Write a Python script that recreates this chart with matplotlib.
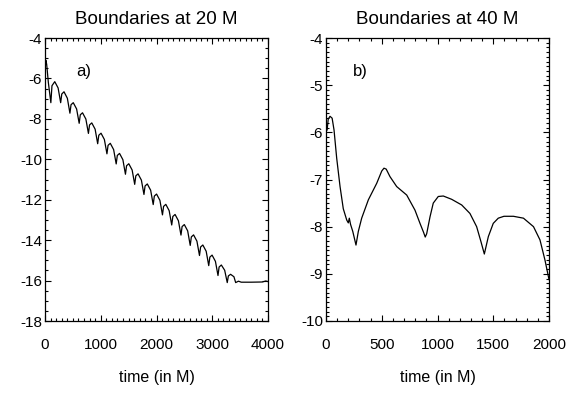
import matplotlib
matplotlib.use("Agg")
import matplotlib.pyplot as plt
import numpy as np
from matplotlib.ticker import MultipleLocator

# ---------------- data: panel a (boundaries at 20 M) ----------------
start_t = [0, 15, 30, 60]
start_v = [-5.60, -5.10, -5.30, -6.20]

cusp_t = [105, 281, 447, 613, 779, 945, 1111, 1277, 1443, 1609,
          1775, 1941, 2107, 2273, 2439, 2605, 2771, 2937, 3103, 3269]
cusp_v = [-7.20, -7.20, -7.72, -8.22, -8.72, -9.23, -9.73, -10.23, -10.74, -11.24,
          -11.74, -12.24, -12.75, -13.25, -13.75, -14.26, -14.76, -15.26, -15.75, -16.10]
rise_t = [125, 301, 467, 633, 799, 965, 1131, 1297, 1463, 1629,
          1795, 1961, 2127, 2293, 2459, 2625, 2791, 2957, 3123, 3289]
rise_v = [-6.36, -6.77, -7.30, -7.80, -8.30, -8.81, -9.31, -9.81, -10.32, -10.82,
          -11.32, -11.82, -12.33, -12.83, -13.33, -13.84, -14.34, -14.84, -15.33, -15.77]
peak_t = [175, 341, 507, 673, 839, 1005, 1171, 1337, 1503, 1669,
          1835, 2001, 2167, 2333, 2499, 2665, 2831, 2997, 3163, 3329]
peak_v = [-6.16, -6.66, -7.20, -7.70, -8.20, -8.71, -9.21, -9.71, -10.22, -10.72,
          -11.22, -11.72, -12.23, -12.73, -13.23, -13.74, -14.24, -14.74, -15.23, -15.69]
fall_t = [235, 401, 567, 733, 899, 1065, 1231, 1397, 1563, 1729,
          1895, 2061, 2227, 2393, 2559, 2725, 2891, 3057, 3223, 3389]
fall_v = [-6.47, -6.98, -7.51, -8.01, -8.51, -9.02, -9.52, -10.02, -10.53, -11.03,
          -11.53, -12.03, -12.54, -13.04, -13.54, -14.05, -14.55, -15.05, -15.49, -15.81]

tail_t = [3420, 3470, 3520, 3700, 3900, 3960, 4000]
tail_v = [-16.10, -16.03, -16.08, -16.08, -16.07, -16.02, -16.05]

# ---------------- data: panel b (boundaries at 40 M) ----------------
b_t = [10, 20, 36, 55, 72, 96, 126, 155, 186, 200, 209, 220, 240, 269, 290, 320,
       380, 455, 500, 520, 540, 574, 634, 724, 798, 843, 875, 890, 903, 933, 962,
       1007, 1052, 1127, 1217, 1291, 1351, 1390, 1420, 1456, 1500, 1545, 1596,
       1681, 1771, 1861, 1919, 1964, 2000]
b_v = [-5.95, -5.72, -5.66, -5.70, -5.95, -6.55, -7.15, -7.62, -7.86, -7.92, -7.82,
       -7.95, -8.10, -8.39, -8.10, -7.82, -7.43, -7.08, -6.82, -6.76, -6.78, -6.94,
       -7.15, -7.33, -7.65, -7.93, -8.12, -8.22, -8.15, -7.79, -7.50, -7.36, -7.35,
       -7.42, -7.54, -7.72, -8.00, -8.32, -8.58, -8.21, -7.93, -7.82, -7.78, -7.78,
       -7.82, -8.00, -8.28, -8.71, -9.12]

titles = ["Boundaries at 20 M", "Boundaries at 40 M"]
panel_labels = ["a)", "b)"]
xlabel = "time (in M)"

# assemble panel a polyline from the read feature points (ordered in time)
osc_t = np.column_stack([cusp_t, rise_t, peak_t, fall_t]).ravel()
osc_v = np.column_stack([cusp_v, rise_v, peak_v, fall_v]).ravel()
a_t = np.concatenate([start_t, osc_t, tail_t])
a_v = np.concatenate([start_v, osc_v, tail_v])

# ---------------- figure ----------------
plt.rcParams["font.family"] = ["Liberation Sans", "DejaVu Sans"]
plt.rcParams["axes.unicode_minus"] = False

fig = plt.figure(figsize=(5.79, 3.94), dpi=100)
axA = fig.add_axes([45/579, 1-321/394, 223/579, 283/394])
axB = fig.add_axes([326/579, 1-321/394, 223/579, 283/394])

axA.plot(a_t, a_v, color="black", lw=0.9)
axB.plot(b_t, b_v, color="black", lw=0.9)

axA.set_xlim(0, 4000)
axA.set_ylim(-18, -4)
axA.xaxis.set_major_locator(MultipleLocator(1000))
axA.xaxis.set_minor_locator(MultipleLocator(100))
axA.yaxis.set_major_locator(MultipleLocator(2))
axA.yaxis.set_minor_locator(MultipleLocator(0.5))

axB.set_xlim(0, 2000)
axB.set_ylim(-10, -4)
axB.xaxis.set_major_locator(MultipleLocator(500))
axB.xaxis.set_minor_locator(MultipleLocator(100))
axB.yaxis.set_major_locator(MultipleLocator(1))
axB.yaxis.set_minor_locator(MultipleLocator(0.1))

for ax, title, lab, lx in zip([axA, axB], titles, panel_labels, [0.175, 0.152]):
    ax.set_title(title, fontsize=13.5, pad=10)
    ax.set_xlabel(xlabel, fontsize=11.5, labelpad=13)
    ax.tick_params(which="both", direction="in", top=True, right=True,
                   labelsize=11, width=0.8)
    ax.tick_params(axis="x", which="both", pad=12)
    ax.tick_params(axis="y", which="both", pad=2)
    ax.tick_params(which="major", length=4.5)
    ax.tick_params(which="minor", length=2)
    for s in ax.spines.values():
        s.set_linewidth(0.9)
    ax.text(lx, 0.88, lab, transform=ax.transAxes,
            fontsize=12, ha="center", va="center")

fig.savefig("out.png", dpi=100)
